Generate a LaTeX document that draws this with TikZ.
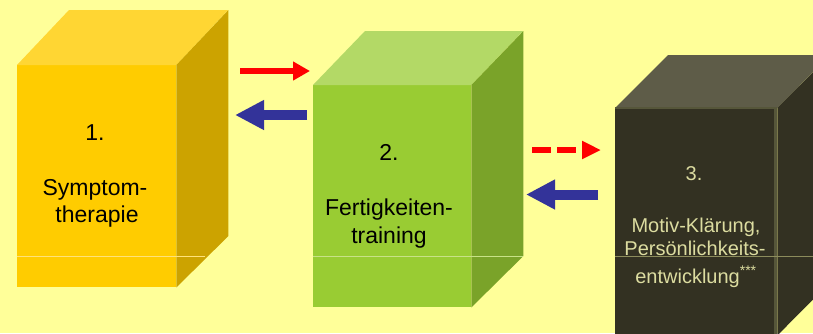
\documentclass[tikz,border=0pt]{standalone}
\usepackage{fontspec}
\setmainfont{Liberation Sans}
\usetikzlibrary{arrows.meta}

\definecolor{paper}{HTML}{FFFF99}
\definecolor{yfront}{HTML}{FFCC00}
\definecolor{ytop}{HTML}{FFD633}
\definecolor{yside}{HTML}{CCA300}
\definecolor{yline}{HTML}{FFE27A}
\definecolor{gfront}{HTML}{99CC33}
\definecolor{gtop}{HTML}{B3D966}
\definecolor{gside}{HTML}{7AA329}
\definecolor{gline}{HTML}{C8E287}
\definecolor{dfront}{HTML}{333122}
\definecolor{dtop}{HTML}{5E5C48}
\definecolor{dedge}{HTML}{56563A}
\definecolor{dline}{HTML}{8C8C5C}
\definecolor{dtext}{HTML}{DCDCA0}
\definecolor{arrred}{HTML}{FF0000}
\definecolor{arrblue}{HTML}{333399}

\tikzset{
  face/.style={draw=none, inner sep=0pt, anchor=north west},
  bigtext/.style={font=\fontsize{23}{27}\selectfont, anchor=base, inner sep=0pt, text=black},
  smalltext/.style={font=\fontsize{20}{24}\selectfont, anchor=base, inner sep=0pt, text=dtext},
  forward/.style={draw=arrred, line width=6pt, -{Triangle[length=17pt,width=18pt]}},
  backward/.style={draw=arrblue, line width=10pt, -{Triangle[length=29pt,width=28pt]}},
}

\begin{document}
\begin{tikzpicture}[x=1pt,y=-1pt]
\useasboundingbox (0,0) rectangle (813,333);
\fill[paper] (0,0) rectangle (813,333);

% --- cube 1: Symptomtherapie ---
\node[face, fill=yfront, minimum width=159pt, minimum height=222pt] (f1) at (17,65) {};
\fill[ytop] (f1.north west) -- ++(52,-55) -- ++(159,0) -- (f1.north east) -- cycle;
\fill[yside] (f1.north east) -- ++(52,-55) -- ++(0,226) -- (f1.south east) -- cycle;
\draw[yline, line width=0.8pt] (17,256) -- (205,256);
\node[bigtext] (n1) at (95,140) {1.};
\node[bigtext] (t1a) at (95,195) {Symptom-};
\node[bigtext] (t1b) at (97,222) {therapie};

% --- cube 2: Fertigkeitentraining ---
\node[face, fill=gfront, minimum width=158pt, minimum height=222pt] (f2) at (313,85) {};
\fill[gtop] (f2.north west) -- ++(52,-54) -- ++(158,0) -- (f2.north east) -- cycle;
\fill[gside] (f2.north east) -- ++(52,-54) -- ++(0,225) -- (f2.south east) -- cycle;
\draw[gline, line width=0.8pt] (313,256) -- (523,256);
\node[bigtext] (n2) at (389,160) {2.};
\node[bigtext] (t2a) at (389,215) {Fertigkeiten-};
\node[bigtext] (t2b) at (389,243) {training};

% --- cube 3: Motiv-Klaerung, Persoenlichkeitsentwicklung ---
\node[face, fill=dfront, minimum width=162pt, minimum height=227pt] (f3) at (615,108) {};
\fill[dtop] (f3.north west) -- ++(53,-53) -- ++(162,0) -- (f3.north east) -- cycle;
\fill[dfront] (f3.north east) -- ++(53,-53) -- ++(0,227) -- (f3.south east) -- cycle;
\draw[dedge, line width=2pt] (f3.north west) -- (f3.north east);
\draw[dedge, line width=3pt] ([xshift=-1.5pt]f3.north east) -- ([xshift=-1.5pt]f3.south east);
\draw[dline, line width=0.8pt] (615,256) -- (813,256);
\node[smalltext] (n3) at (694,180) {3.};
\node[smalltext] (t3a) at (696,232) {Motiv-Klärung,};
\node[smalltext] (t3b) at (695,255) {Persönlichkeits-};
\node[smalltext] (t3c) at (696,283) {entwicklung\textsuperscript{***}};

% --- arrows between the stages ---
\coordinate (a1s) at (240,71);
\coordinate (a1e) at (310,71);
\coordinate (b1s) at (307,115);
\coordinate (b1e) at (235,115);
\coordinate (a2s) at (532,150);
\coordinate (a2e) at (601,150);
\coordinate (b2s) at (598,194.5);
\coordinate (b2e) at (526,194.5);

\draw[forward] (a1s) -- (a1e);
\draw[backward] (b1s) -- (b1e);
\draw[forward, -{Triangle[length=19pt,width=17pt]}, dash pattern=on 19pt off 6pt] (a2s) -- (a2e);
\draw[backward] (b2s) -- (b2e);
\end{tikzpicture}
\end{document}
